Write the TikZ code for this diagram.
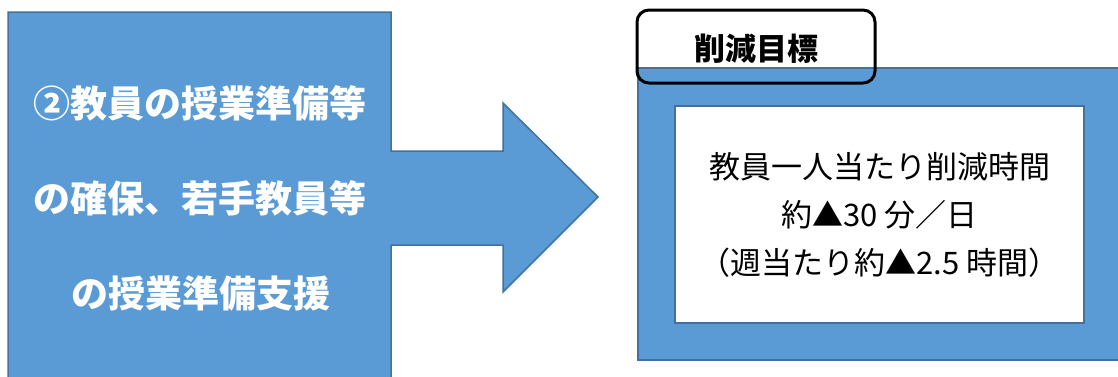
\documentclass[tikz,border=0pt]{standalone}
\usepackage{fontspec}
\setmainfont{Noto Sans CJK JP}
\definecolor{boxblue}{HTML}{5B9BD5}
\definecolor{edgeblue}{HTML}{41719C}
\tikzset{
  blueshape/.style={fill=boxblue, draw=edgeblue, line width=1.5pt, line join=miter},
  lefttext/.style={text=white, font=\fontsize{37}{44}\selectfont\bfseries, inner sep=0pt},
  innerbox/.style={fill=white, draw=edgeblue, line width=2pt, inner sep=0pt},
  bodytext/.style={align=center, font=\fontsize{31}{48}\selectfont, inner sep=0pt},
  labelbox/.style={draw=black, line width=3pt, rounded corners=12pt, inner sep=0pt,
    font=\fontsize{31}{36}\selectfont\bfseries}
}
\begin{document}
\begin{tikzpicture}[x=1pt,y=-1pt]
\useasboundingbox (0,0) rectangle (1118,376);
\clip (0,0) rectangle (1118,376);
% left arrow shape
\draw[blueshape] (8,12) -- (391,12) -- (391,151) -- (503,151) -- (503,103)
  -- (598,197) -- (503,292) -- (503,245) -- (391,245) -- (391,385) -- (8,385) -- cycle;
\node[lefttext] (l1) at (200,103) {②教員の授業準備等};
\node[lefttext] (l2) at (200,198) {の確保、若手教員等};
\node[lefttext] (l3) at (201,293) {の授業準備支援};
% right target box
\draw[blueshape] (638,68) rectangle (1125,360);
\node[innerbox, minimum width=409pt, minimum height=217pt] (inner) at (879.5,214.5) {};
\node[bodytext] (body) at (879.5,215) {教員一人当たり削減時間\\約▲30 分／日\\（週当たり約▲2.5 時間）};
\node[labelbox, minimum width=238pt, minimum height=73pt] (label) at (756,46.5) {};
\node[font=\fontsize{31}{36}\selectfont\bfseries, inner sep=0pt] (labeltext) at (756,49) {削減目標};
\end{tikzpicture}
\end{document}
